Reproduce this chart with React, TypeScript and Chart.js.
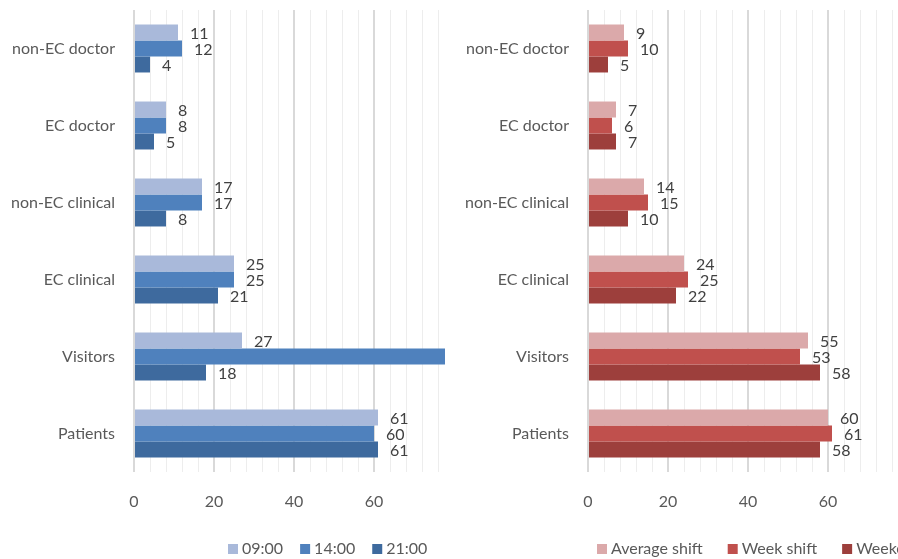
import React, { useEffect, useRef } from "react";
import { Chart, registerables } from "chart.js";

Chart.register(...registerables);

// ---- data ----
const categories = ["non-EC doctor", "EC doctor", "non-EC clinical", "EC clinical", "Visitors", "Patients"];

const timeLabels = ["09:00", "14:00", "21:00"];
const at0900 = [11, 8, 17, 25, 27, 61];
const at1400 = [12, 8, 17, 25, 78, 60];
const at2100 = [4, 5, 8, 21, 18, 61];

const shiftLabels = ["Average shift", "Week shift", "Weekend shift"];
const averageShift = [9, 7, 14, 24, 55, 60];
const weekShift = [10, 6, 15, 25, 53, 61];
const weekendShift = [5, 7, 10, 22, 58, 58];

const axisMin = 0;
const axisMax = 77.75;
const gridStep = 4;
const labelledTicks = [0, 20, 40, 60];

// ---- styles ----
const FONT = "Lato, 'Liberation Sans', sans-serif";
const FONT_SIZE = 16;
const blueColors = ["#A9B9DA", "#4F81BD", "#3E6A9E"];
const redColors = ["#DBA9AA", "#C0504D", "#9D3F3C"];

const valueLabelsPlugin = {
  id: "valueLabels",
  afterDatasetsDraw(chart: any) {
    const ctx = chart.ctx;
    const xs = chart.scales.x;
    ctx.save();
    ctx.font = `${FONT_SIZE}px ${FONT}`;
    ctx.fillStyle = "#404040";
    ctx.textAlign = "left";
    ctx.textBaseline = "middle";
    chart.data.datasets.forEach((ds: any, i: number) => {
      const meta = chart.getDatasetMeta(i);
      meta.data.forEach((bar: any, j: number) => {
        const v = ds.data[j];
        if (v > xs.max) return;
        ctx.fillText(String(v), bar.x + 12, bar.y + 1);
      });
    });
    ctx.restore();
  },
};

const legendPlugin = {
  id: "customLegend",
  afterDraw(chart: any, _args: any, o: any) {
    const ctx = chart.ctx;
    ctx.save();
    ctx.font = `${FONT_SIZE}px ${FONT}`;
    ctx.textAlign = "left";
    ctx.textBaseline = "middle";
    let x = o.startX;
    const y = o.y;
    chart.data.datasets.forEach((ds: any) => {
      ctx.fillStyle = ds.backgroundColor;
      ctx.fillRect(x, y - 5, 10, 10);
      ctx.fillStyle = "#595959";
      ctx.fillText(ds.label, x + 14, y);
      x += 14 + ctx.measureText(ds.label).width + o.gap;
    });
    ctx.restore();
  },
};

function buildConfig(
  seriesLabels: string[],
  series: number[][],
  colors: string[],
  yWidth: number,
  rightPad: number,
  legendStart: number,
  legendGap: number
): any {
  return {
    type: "bar",
    data: {
      labels: categories,
      datasets: series.map((d, i) => ({
        label: seriesLabels[i],
        data: d,
        backgroundColor: colors[i],
        borderWidth: 0,
        barPercentage: 1,
        categoryPercentage: 0.623,
      })),
    },
    options: {
      indexAxis: "y",
      responsive: false,
      animation: false,
      devicePixelRatio: 1,
      layout: { padding: { top: 10, right: rightPad, bottom: 0, left: 0 } },
      plugins: {
        legend: { display: false },
        tooltip: { enabled: false },
        customLegend: { startX: legendStart, y: 549, gap: legendGap },
      },
      scales: {
        x: {
          min: axisMin,
          max: axisMax,
          afterBuildTicks: (scale: any) => {
            const t = [];
            for (let v = axisMin; v <= axisMax; v += gridStep) t.push({ value: v });
            scale.ticks = t;
          },
          afterFit: (scale: any) => {
            scale.height = 87;
            scale.paddingLeft = 0;
            scale.paddingRight = 0;
          },
          border: { display: false },
          grid: {
            drawTicks: false,
            color: (c: any) => (c.tick && c.tick.value % 20 === 0 ? "#D9D9D9" : "#EDEDED"),
            lineWidth: (c: any) => (c.tick && c.tick.value % 20 === 0 ? 2 : 1),
          },
          ticks: {
            autoSkip: false,
            maxRotation: 0,
            padding: 20,
            color: "#595959",
            font: { family: FONT, size: FONT_SIZE },
            callback: (v: any) => (labelledTicks.includes(Number(v)) ? String(v) : ""),
          },
        },
        y: {
          afterFit: (scale: any) => {
            scale.width = yWidth;
            scale.paddingTop = 0;
            scale.paddingBottom = 0;
          },
          border: { display: false },
          grid: { display: false, drawTicks: false },
          ticks: {
            padding: 19,
            color: "#595959",
            font: { family: FONT, size: FONT_SIZE },
          },
        },
      },
    },
    plugins: [valueLabelsPlugin, legendPlugin],
  };
}

export default function App() {
  const leftRef = useRef<HTMLCanvasElement>(null);
  const rightRef = useRef<HTMLCanvasElement>(null);

  useEffect(() => {
    const left = new Chart(
      leftRef.current as HTMLCanvasElement,
      buildConfig(timeLabels, [at0900, at1400, at2100], blueColors, 134, 15, 228, 17)
    );
    const right = new Chart(
      rightRef.current as HTMLCanvasElement,
      buildConfig(shiftLabels, [averageShift, weekShift, weekendShift], redColors, 128, 11, 137, 25)
    );
    return () => {
      left.destroy();
      right.destroy();
    };
  }, []);

  return (
    <div
      style={{
        position: "fixed",
        left: 0,
        top: 0,
        width: 898,
        height: 559,
        overflow: "hidden",
        background: "#ffffff",
      }}
    >
      <canvas
        ref={leftRef}
        width={460}
        height={559}
        style={{ position: "absolute", left: 0, top: 0, width: 460, height: 559 }}
      />
      <canvas
        ref={rightRef}
        width={450}
        height={559}
        style={{ position: "absolute", left: 460, top: 0, width: 450, height: 559 }}
      />
    </div>
  );
}
